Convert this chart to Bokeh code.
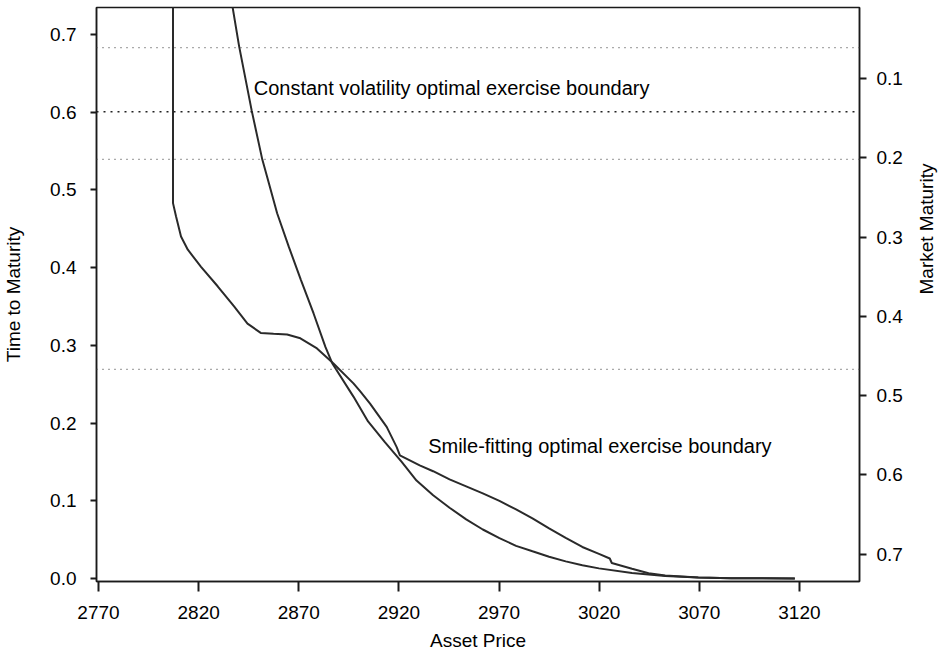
import math
from bokeh.plotting import figure
from bokeh.models import Range1d, LinearAxis, FixedTicker, PrintfTickFormatter, Span
from bokeh.core.properties import value
from bokeh.embed import file_html
from bokeh.resources import INLINE

# ---- data ----
const_price = [2836.9, 2840.2, 2846.5, 2851.8, 2854.6, 2859.2, 2865.0, 2871.1, 2877.4, 2883.3,
               2886.7, 2897.3, 2904.6, 2913.1, 2921.4, 2928.8, 2937.1, 2945.3, 2953.6, 2961.9,
               2970.2, 2978.5, 2986.7, 2995.0, 3003.3, 3011.6, 3019.9, 3036.4, 3053.0, 3069.5,
               3085.9, 3117.7]
const_ttm = [0.736, 0.685, 0.602, 0.539, 0.513, 0.470, 0.427, 0.384, 0.341, 0.298,
             0.277, 0.234, 0.202, 0.175, 0.150, 0.126, 0.107, 0.091, 0.076, 0.063,
             0.052, 0.042, 0.035, 0.028, 0.022, 0.017, 0.013, 0.007, 0.0032, 0.0012,
             0.0004, 0.0]

smile_price = [2807.2, 2807.2, 2808.7, 2811.2, 2814.6, 2821.2, 2829.5, 2837.7, 2844.4, 2851.0,
               2857.4, 2864.2, 2870.8, 2879.1, 2887.2, 2897.3, 2900.6, 2905.6, 2913.9, 2918.9,
               2920.5, 2930.4, 2937.1, 2945.3, 2953.6, 2961.9, 2970.2, 2978.5, 2986.7, 2995.0,
               3003.3, 3011.6, 3019.9, 3025.3, 3026.3, 3036.4, 3044.7, 3053.0, 3069.5, 3085.9, 3117.7]
smile_ttm = [0.736, 0.483, 0.466, 0.440, 0.423, 0.401, 0.376, 0.350, 0.328, 0.316,
             0.315, 0.314, 0.309, 0.296, 0.277, 0.251, 0.241, 0.225, 0.195, 0.169,
             0.1585, 0.1456, 0.138, 0.1275, 0.1185, 0.1095, 0.0998, 0.0889, 0.0773, 0.0644,
             0.0521, 0.0405, 0.0317, 0.0257, 0.0199, 0.0124, 0.0067, 0.0037, 0.0012, 0.0003, 0.0]

market_maturities = [0.061, 0.142, 0.202, 0.467]   # dotted lines (right axis units)
price_ticks = [2770, 2820, 2870, 2920, 2970, 3020, 3070, 3120]
ttm_ticks = [0.0, 0.1, 0.2, 0.3, 0.4, 0.5, 0.6, 0.7]
mm_ticks = [0.1, 0.2, 0.3, 0.4, 0.5, 0.6, 0.7]

labels = ["Constant volatility optimal exercise boundary", "Smile-fitting optimal exercise boundary"]
label_price = [2847.5, 2934.6]
label_ttm = [0.6305, 0.1701]

FONT = "Liberation Sans"
INK = "#1a1a1a"

p = figure(width=950, height=657,
           x_range=Range1d(2769, 3150), y_range=Range1d(-0.0039, 0.7347),
           output_backend="svg", toolbar_location=None,
           min_border_left=95, min_border_right=88, min_border_top=7, min_border_bottom=76)
p.extra_y_ranges = {"mm": Range1d(start=0.7347, end=0.0104)}

p.xgrid.visible = False
p.ygrid.visible = False
p.outline_line_color = INK
p.outline_line_width = 1.5
p.background_fill_color = "white"
p.border_fill_color = "white"

def style_axis(ax, tick_out, standoff, lab_standoff):
    ax.axis_line_color = INK
    ax.axis_line_width = 1.5
    ax.major_tick_line_color = INK
    ax.major_tick_line_width = 2
    ax.major_tick_in = 0
    ax.major_tick_out = tick_out
    ax.minor_tick_line_color = None
    ax.major_label_text_font = FONT
    ax.major_label_text_font_size = "19px"
    ax.major_label_text_color = "black"
    ax.major_label_standoff = standoff
    ax.axis_label_text_font = FONT
    ax.axis_label_text_font_size = "19px"
    ax.axis_label_text_font_style = "normal"
    ax.axis_label_text_color = "black"
    ax.axis_label_standoff = lab_standoff

xa = p.xaxis[0]
xa.ticker = FixedTicker(ticks=price_ticks)
xa.formatter = PrintfTickFormatter(format="%d")
xa.axis_label = "Asset Price"
style_axis(xa, 10, 14, 8)

ya = p.yaxis[0]
ya.ticker = FixedTicker(ticks=ttm_ticks)
ya.formatter = PrintfTickFormatter(format="%.1f")
ya.axis_label = "Time to Maturity"
style_axis(ya, 6, 14, 23)

ra = LinearAxis(y_range_name="mm", ticker=FixedTicker(ticks=mm_ticks),
                formatter=PrintfTickFormatter(format="%.1f"), axis_label="Market Maturity")
style_axis(ra, 7, 10, 21)
try:
    ra.axis_label_orientation = math.pi / 2
except AttributeError:
    pass
p.add_layout(ra, "right")

for i, m in enumerate(market_maturities):
    dark = (i == 1)
    p.add_layout(Span(location=m, dimension="width", y_range_name="mm",
                      line_color="#222222" if dark else "#555555",
                      line_width=1.6 if dark else 1.2,
                      line_dash="2 5" if dark else "1 5"))

p.line(const_price, const_ttm, line_color="#2a2a2a", line_width=2)
p.line(smile_price, smile_ttm, line_color="#2a2a2a", line_width=2)

p.text(x=label_price, y=label_ttm, text=labels, text_font=value(FONT),
       text_font_size="20px", text_align="left", text_baseline="middle", text_color="black")

open("out.html", "w").write(file_html(p, INLINE))
